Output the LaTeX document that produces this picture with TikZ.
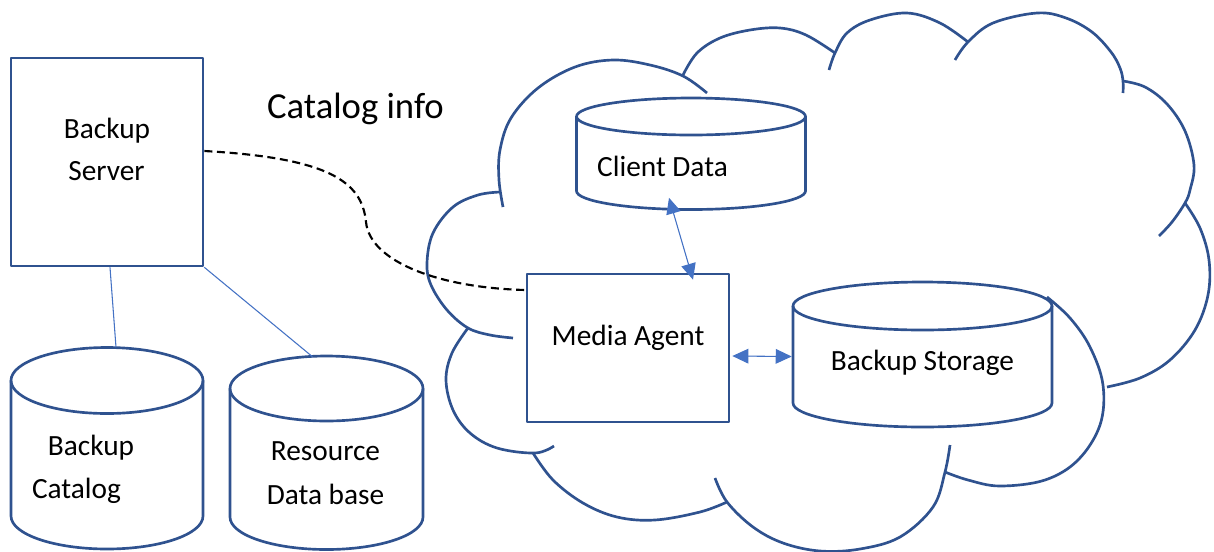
\documentclass[tikz,border=0pt]{standalone}
\usepackage{fontspec}
\setmainfont{Carlito}
\usetikzlibrary{arrows.meta,calc,fit}
\definecolor{edgeblue}{HTML}{2F528F}
\definecolor{linkblue}{HTML}{4472C4}

% database drum: #1 name, #2 centre x, #3 half width, #4 y of top ellipse,
% #5 ellipse half height, #6 y of bottom ellipse
\newcommand{\drumshape}[6]{%
  \draw[outline] ({#2-#3},{#4}) -- ({#2-#3},{#6})
     arc[start angle=180, end angle=0, x radius=#3, y radius=#5] -- ({#2+#3},{#4});
  \draw[outline] (#2,#4) ellipse[x radius=#3, y radius=#5];
  \node[fit={({#2-#3},{#4-#5}) ({#2+#3},{#6+#5})}, inner sep=0pt] (#1) {};
}

\begin{document}
\begin{tikzpicture}[x=0.75pt, y=-0.75pt,
  outline/.style={draw=edgeblue, line width=2pt, line join=round},
  boxshape/.style={outline, inner sep=0pt},
  lbl/.style={font=\fontsize{22}{26}\selectfont, inner sep=0pt, anchor=base},
  link/.style={draw=linkblue, line width=0.8pt},
  twoway/.style={link, {Triangle[length=12pt, width=11pt]}-{Triangle[length=12pt, width=11pt]}, fill=linkblue},
  infoline/.style={draw=black, line width=1.6pt, dash pattern=on 6pt off 3.5pt}]

\useasboundingbox (0,0) rectangle (1214,551);

% cloud outline, one lobe at a time
\begin{scope}[outline]
\draw plot[smooth, tension=0.6] coordinates {(503,207) (499,180) (500,150) (511,118) (538,88) (575,67) (613,60) (650,65) (683,76) (707,93)};
\draw plot[smooth, tension=0.6] coordinates {(683,75) (697,53) (720,38) (750,30) (780,28) (806,35) (835,53)};
\draw plot[smooth, tension=0.6] coordinates {(829,70) (835,53) (847,33) (870,20) (907,13) (940,23) (968,42)};
\draw plot[smooth, tension=0.6] coordinates {(955,60) (968,42) (993,23) (1037,13) (1066,18) (1092,32) (1111,52) (1120,68) (1123,81) (1123,93)};
\draw plot[smooth, tension=0.6] coordinates {(1123,81) (1145,87) (1167,104) (1185,131) (1194,165) (1190,190) (1185,203) (1172,222) (1159,236)};
\draw plot[smooth, tension=0.6] coordinates {(1185,203) (1200,228) (1209,260) (1208,295) (1195,330) (1170,360) (1140,378) (1107,387)};
\draw plot[smooth, tension=0.6] coordinates {(1047,297) (1070,318) (1090,347) (1103,385) (1100,425) (1078,460) (1045,480) (1000,486) (968,480) (945,472)};
\draw plot[smooth, tension=0.6] coordinates {(950,445) (945,472) (933,507) (900,537) (860,549) (820,551) (783,543) (753,527) (727,502) (715,478)};
\draw plot[smooth, tension=0.6] coordinates {(727,502) (700,512) (655,520) (617,517) (583,503) (553,480) (533,453)};
\draw plot[smooth, tension=0.6] coordinates {(554,446) (535,453) (497,448) (470,433) (453,410) (446,380) (452,353) (468,328)};
\draw plot[smooth, tension=0.6] coordinates {(513,338) (490,335) (468,328) (447,310) (431,285) (427,263) (433,233) (453,207) (478,195) (500,192)};
\end{scope}

% boxes
\node[boxshape, fit={(11,58) (203,266)}] (srv) {};
\node[boxshape, fit={(527,274) (729,422)}] (mda) {};

% databases
\drumshape{cat}{107}{96}{380.5}{33}{516}
\drumshape{res}{326.5}{96.5}{388.5}{32.5}{517}
\drumshape{cd}{691}{114.5}{116.5}{18.5}{191}
\drumshape{bs}{922.5}{129.5}{306}{24}{403}

% texts
\node[lbl] (srvA) at (107,138) {Backup};
\node[lbl] (srvB) at (106.5,180) {Server};
\node[lbl, font=\fontsize{27.5}{33}\selectfont] (info) at (355.5,118) {Catalog info};
\node[lbl] (catA) at (91,455) {Backup};
\node[lbl] (catB) at (76.5,498) {Catalog};
\node[lbl] (resA) at (325.5,460) {Resource};
\node[lbl] (resB) at (325.5,504) {Data base};
\node[lbl] (cdA) at (662.5,176) {Client Data};
\node[lbl] (mdaA) at (628,345) {Media Agent};
\node[lbl] (bsA) at (922.5,370) {Backup Storage};

% connectors
\draw[link] ($(srv.south)+(3,0)$) -- ($(cat.north)+(9,0)$);
\draw[link] (srv.south east) -- ($(res.north)+(-14,1)$);
\draw[twoway] ($(cd.south)+(-22,-12)$) -- ($(mda.north)+(65,7)$);
\draw[twoway] ($(mda.east)+(2,8)$) -- ($(bs.west)+(-1,2)$);
\draw[infoline] ($(srv.east)+(0,-11)$) .. controls (330,158) and (362,182) .. (366,222)
   .. controls (370,262) and (440,288) .. ($(mda.west)+(0,-58)$);
\end{tikzpicture}
\end{document}
